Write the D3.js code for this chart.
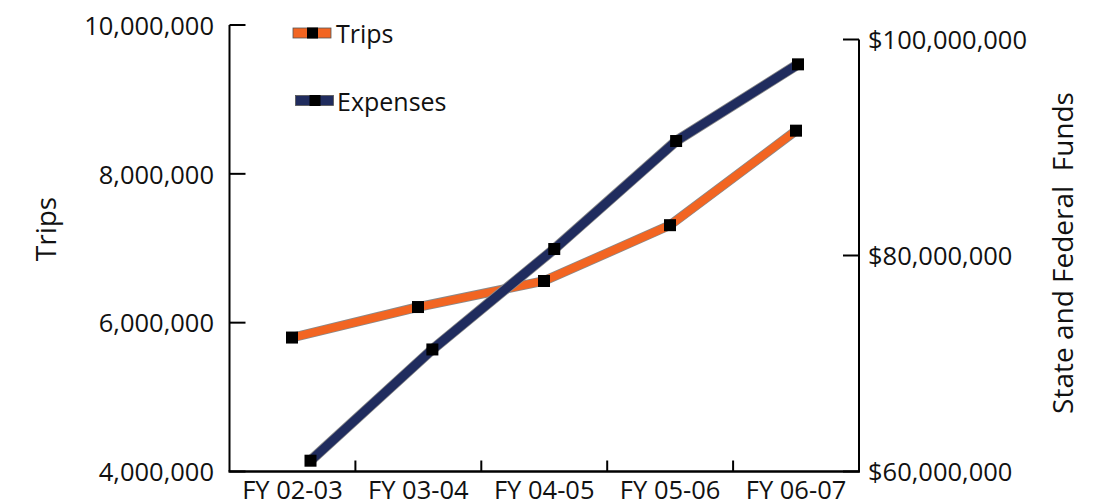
<!DOCTYPE html>
<html>
<head>
<meta charset="utf-8">
<script src="https://cdn.jsdelivr.net/npm/d3@7"></script>
<style>
  html, body { margin: 0; padding: 0; background: #fff; }
  svg { display: block; }
  text { font-family: "Open Sans", "Noto Sans", sans-serif; fill: #111; }
</style>
</head>
<body>
<svg id="chart" width="1097" height="504"></svg>
<script>
// ---- data ----
const categories = ["FY 02-03", "FY 03-04", "FY 04-05", "FY 05-06", "FY 06-07"];
const tripsValues = [5800000, 6210000, 6560000, 7310000, 8580000];
const expenseValues = [61000000, 71300000, 80600000, 90600000, 97700000];
const leftTicks = [4000000, 6000000, 8000000, 10000000];
const rightTicks = [60000000, 80000000, 100000000];
const seriesNames = ["Trips", "Expenses"];

// ---- layout ----
const svg = d3.select("#chart");
const plotLeft = 229.5, plotRight = 859, plotBottom = 471.5, plotTop = 25;
const orange = "#F26522", navy = "#202C5E";
const tickFont = 25.5, legendFont = 25, titleFont = 28;

const x = d3.scaleBand().domain(categories).range([plotLeft, plotRight]);
const xTrips = d3.scalePoint().domain(categories).range([292, 796]);
const xExp = d3.scalePoint().domain(categories).range([310.5, 798]);
const yL = d3.scaleLinear().domain([4000000, 10000000]).range([plotBottom, plotTop]);
const yR = d3.scaleLinear().domain([60000000, 100000000]).range([plotBottom, 39.5]);
const fmt = d3.format(",");

// left axis
const gL = svg.append("g");
gL.append("line").attr("x1", plotLeft).attr("x2", plotLeft).attr("y1", yL(10000000)).attr("y2", plotBottom)
  .attr("stroke", "#000").attr("stroke-width", 2);
leftTicks.forEach(t => {
  gL.append("line").attr("x1", plotLeft).attr("x2", plotLeft + 16).attr("y1", yL(t)).attr("y2", yL(t))
    .attr("stroke", "#000").attr("stroke-width", 2);
  gL.append("text").attr("x", 214).attr("y", yL(t) + 3).attr("text-anchor", "end")
    .attr("dominant-baseline", "middle").style("font-size", tickFont + "px").text(fmt(t));
});

// right axis
const gR = svg.append("g");
gR.append("line").attr("x1", plotRight).attr("x2", plotRight).attr("y1", yR(100000000)).attr("y2", plotBottom)
  .attr("stroke", "#000").attr("stroke-width", 2);
rightTicks.forEach(t => {
  gR.append("line").attr("x1", plotRight - 16).attr("x2", plotRight).attr("y1", yR(t)).attr("y2", yR(t))
    .attr("stroke", "#000").attr("stroke-width", 2);
  gR.append("text").attr("x", 868).attr("y", yR(t) + 3).attr("text-anchor", "start")
    .attr("dominant-baseline", "middle").style("font-size", tickFont + "px").text("$" + fmt(t));
});

// bottom axis
const gB = svg.append("g");
gB.append("line").attr("x1", plotLeft - 1).attr("x2", plotRight + 1).attr("y1", plotBottom).attr("y2", plotBottom)
  .attr("stroke", "#000").attr("stroke-width", 2.5);
categories.slice(1).forEach(c => {
  gB.append("line").attr("x1", x(c)).attr("x2", x(c)).attr("y1", plotBottom).attr("y2", plotBottom - 11)
    .attr("stroke", "#000").attr("stroke-width", 2);
});
categories.forEach(c => {
  gB.append("text").attr("x", x(c) + x.bandwidth() / 2).attr("y", 498.5).attr("text-anchor", "middle")
    .style("font-size", tickFont + "px").text(c);
});

// axis titles
svg.append("text").attr("transform", "translate(56,229) rotate(-90)").attr("text-anchor", "middle")
  .style("font-size", titleFont + "px").text("Trips");
svg.append("text").attr("transform", "translate(1073,253) rotate(-90)").attr("text-anchor", "middle")
  .style("font-size", titleFont + "px").style("white-space", "pre").attr("xml:space", "preserve")
  .text("State and Federal  Funds");

// lines
function drawSeries(values, xs, ys, color, w) {
  const line = d3.line().x((d, i) => xs(categories[i])).y(d => ys(d));
  svg.append("path").datum(values).attr("d", line).attr("fill", "none")
    .attr("stroke", "#8a8a8a").attr("stroke-width", w + 1.6).attr("stroke-linejoin", "miter");
  svg.append("path").datum(values).attr("d", line).attr("fill", "none")
    .attr("stroke", color).attr("stroke-width", w).attr("stroke-linejoin", "miter");
  svg.append("g").selectAll("rect").data(values).join("rect")
    .attr("x", (d, i) => xs(categories[i]) - 6).attr("y", d => ys(d) - 6)
    .attr("width", 12).attr("height", 12).attr("fill", "#000");
}
drawSeries(tripsValues, xTrips, yL, orange, 8);
drawSeries(expenseValues, xExp, yR, navy, 9);

// legend
const legendItems = [
  { name: seriesNames[0], color: orange, sx: 293, cy: 33, tx: 336, ty: 43 },
  { name: seriesNames[1], color: navy, sx: 295.5, cy: 100.5, tx: 337, ty: 111 }
];
legendItems.forEach(l => {
  svg.append("rect").attr("x", l.sx).attr("y", l.cy - 5).attr("width", 38).attr("height", 10)
    .attr("fill", l.color).attr("stroke", "#555").attr("stroke-width", 0.8);
  svg.append("rect").attr("x", l.sx + 14).attr("y", l.cy - 5.5).attr("width", 11).attr("height", 11)
    .attr("fill", "#000");
  svg.append("text").attr("x", l.tx).attr("y", l.ty).style("font-size", legendFont + "px").text(l.name);
});
</script>
</body>
</html>
